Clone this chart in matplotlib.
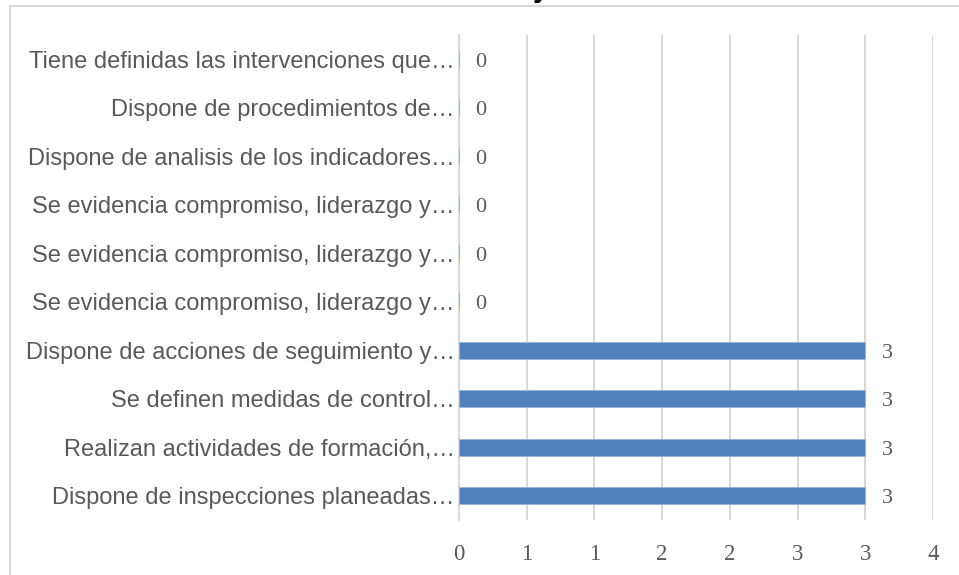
import matplotlib.pyplot as plt
from matplotlib.patches import Rectangle
import numpy as np

# datos (de abajo hacia arriba)
categorias = [
    "Dispone de inspecciones planeadas…",
    "Realizan actividades de formación,…",
    "Se definen medidas de control…",
    "Dispone de acciones de seguimiento y…",
    "Se evidencia compromiso, liderazgo y…",
    "Se evidencia compromiso, liderazgo y…",
    "Se evidencia compromiso, liderazgo y…",
    "Dispone de analisis de los indicadores…",
    "Dispone de procedimientos de…",
    "Tiene definidas las intervenciones que…",
]
valores = [3, 3, 3, 3, 0, 0, 0, 0, 0, 0]
ticks_x = [0, 0.5, 1, 1.5, 2, 2.5, 3, 3.5]
etiquetas_x = ["0", "1", "1", "2", "2", "3", "3", "4"]

gris = "#595959"
linea = "#D9D9D9"

fig = plt.figure(figsize=(9.59, 5.75), dpi=100)
ax = fig.add_axes([459 / 959, 1 - 520 / 575, (933 - 459) / 959, (520 - 35) / 575])

y = np.arange(len(categorias))
ax.barh(y, valores, height=0.35, color="#4F81BD", edgecolor="#9DB5D8", linewidth=0.6, zorder=3)

for yi, v in zip(y, valores):
    ax.annotate(str(v), (v, yi), xytext=(22, -3), textcoords="offset pixels",
                ha="center", va="center", fontsize=16, color=gris, family="Liberation Serif")

ax.set_xlim(0, 3.5)
ax.set_ylim(-0.5, len(categorias) - 0.5)
ax.set_xticks(ticks_x)
ax.set_xticklabels(etiquetas_x, family="Liberation Serif", fontsize=16.5, color=gris)
ax.set_yticks(y)
ax.set_yticklabels(categorias, family="Liberation Sans", fontsize=17, color=gris)
ax.tick_params(axis="both", length=0)
ax.tick_params(axis="y", pad=3)
ax.tick_params(axis="x", pad=17)

ax.grid(axis="x", color=linea, linewidth=1.5, zorder=0)
for s in ["top", "right", "bottom"]:
    ax.spines[s].set_visible(False)
ax.spines["left"].set_color(linea)
ax.spines["left"].set_linewidth(1.5)

# marco del grafico
fig.patches.append(Rectangle((9.5 / 959, -0.2), 1.2, 1.2 - 5.5 / 575, transform=fig.transFigure,
                             fill=False, edgecolor=linea, linewidth=1.5))
# titulo recortado
fig.text(540 / 959, 1 + 2 / 575, "y", ha="center", va="baseline", fontsize=18,
         fontweight="bold", color="black")

fig.savefig("out.png", dpi=100)
